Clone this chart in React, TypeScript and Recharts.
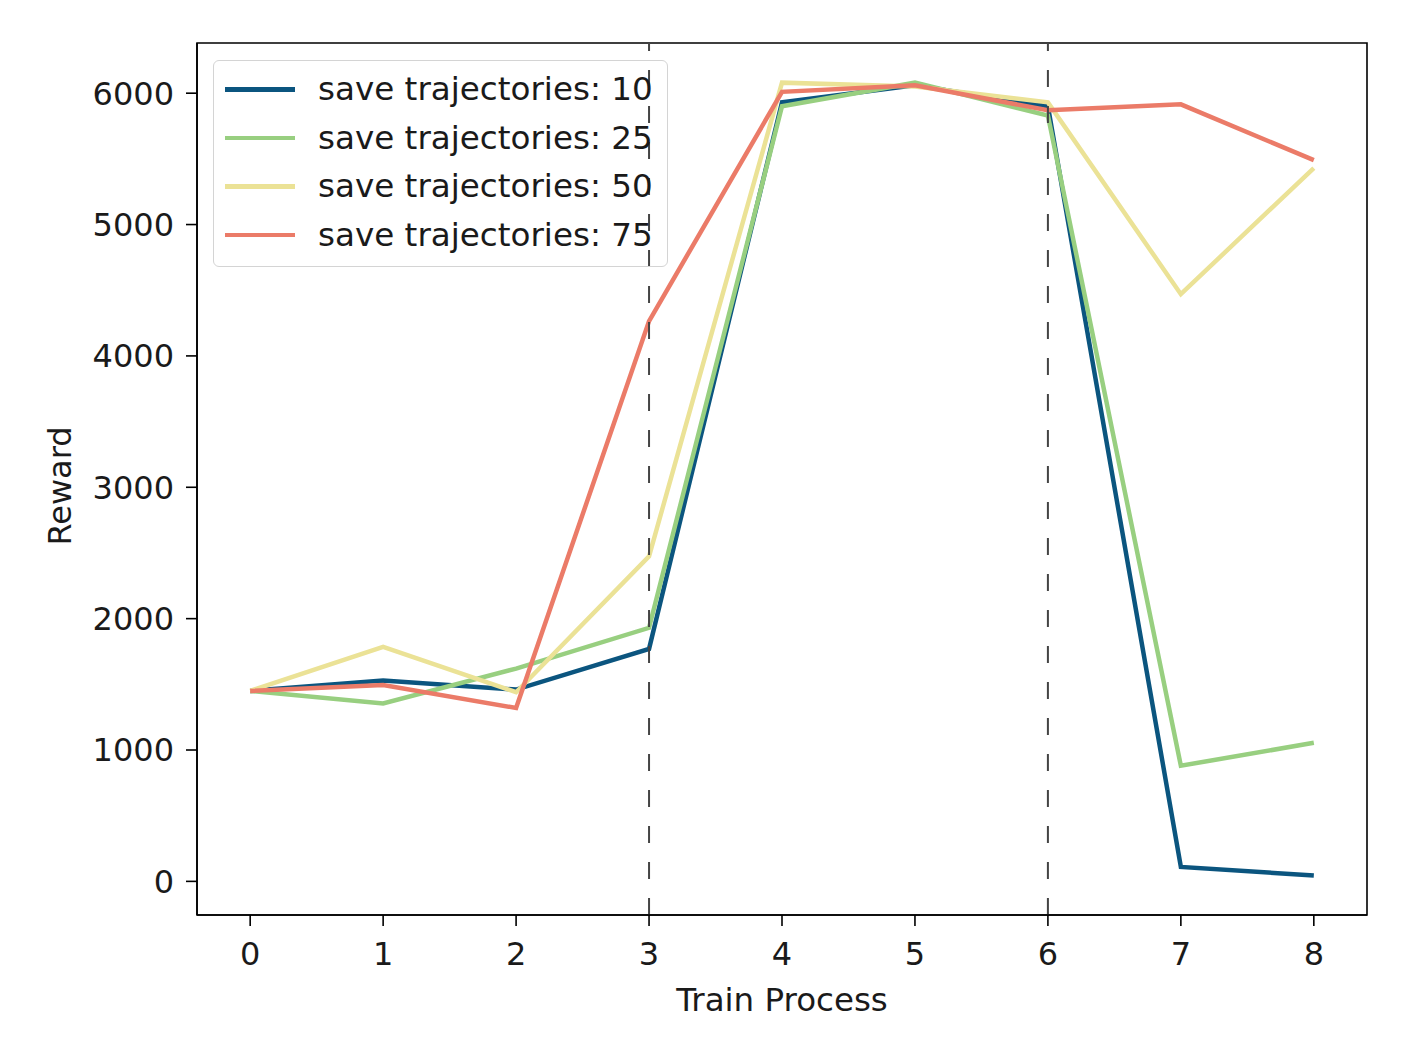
import { LineChart, Line, XAxis, YAxis, ReferenceLine, ReferenceArea, Label } from "recharts";
import type { CSSProperties } from "react";

const steps = [0, 1, 2, 3, 4, 5, 6, 7, 8];
const traj10 = [1450, 1530, 1460, 1770, 5930, 6060, 5900, 110, 45];
const traj25 = [1450, 1355, 1620, 1930, 5900, 6080, 5830, 880, 1055];
const traj50 = [1450, 1785, 1440, 2475, 6080, 6050, 5930, 4470, 5430];
const traj75 = [1450, 1495, 1320, 4265, 6010, 6060, 5870, 5915, 5490];
const xTicks = [0, 1, 2, 3, 4, 5, 6, 7, 8];
const yTicks = [0, 1000, 2000, 3000, 4000, 5000, 6000];
const phaseMarks = [3, 6];

const SERIES = [
  { key: "t10", name: "save trajectories: 10", color: "#0b557f", values: traj10 },
  { key: "t25", name: "save trajectories: 25", color: "#98cf80", values: traj25 },
  { key: "t50", name: "save trajectories: 50", color: "#ebe296", values: traj50 },
  { key: "t75", name: "save trajectories: 75", color: "#eb7b68", values: traj75 },
];

const data = steps.map((s, i) => {
  const row: Record<string, number> = { step: s };
  SERIES.forEach((ser) => (row[ser.key] = ser.values[i]));
  return row;
});

const FONT = "'DejaVu Sans', sans-serif";
const tickStyle = { fontFamily: FONT, fontSize: 32, fill: "#1a1a1a" };

// legend sits over the plot with a see-through background, like matplotlib's
function LegendBox() {
  return (
    <div style={legendBox}>
      {SERIES.map((s) => (
        <div key={s.key} style={legendRow}>
          <span style={{ display: "inline-block", width: 70, height: 4.5, background: s.color, marginRight: 23 }} />
          <span>{s.name}</span>
        </div>
      ))}
    </div>
  );
}

export default function App() {
  return (
    <div style={{ position: "absolute", left: 0, top: 0, width: 1410, height: 1061, background: "#fff" }}>
      <LineChart width={1410} height={1061} data={data} margin={{ top: 43, right: 43, bottom: 0, left: 0 }}>
        <XAxis
          dataKey="step"
          type="number"
          domain={[-0.4, 8.4]}
          ticks={xTicks}
          allowDataOverflow
          height={146}
          tickSize={11}
          tickMargin={16}
          tick={tickStyle}
          axisLine={{ stroke: "#000", strokeWidth: 1.6 }}
          tickLine={{ stroke: "#000", strokeWidth: 1.6 }}
        >
          <Label
            content={({ viewBox }: any) => (
              <text
                x={viewBox.x + viewBox.width / 2}
                y={1011}
                textAnchor="middle"
                style={{ fontFamily: FONT, fontSize: 32.5, fill: "#1a1a1a" }}
              >
                Train Process
              </text>
            )}
          />
        </XAxis>
        <YAxis
          type="number"
          domain={[-256, 6382]}
          ticks={yTicks}
          allowDataOverflow
          width={197}
          tickSize={11}
          tickMargin={12}
          tick={tickStyle}
          axisLine={{ stroke: "#000", strokeWidth: 1.6 }}
          tickLine={{ stroke: "#000", strokeWidth: 1.6 }}
        >
          <Label
            content={() => (
              <text
                x={71}
                y={486}
                textAnchor="middle"
                transform="rotate(-90 71 486)"
                style={{ fontFamily: FONT, fontSize: 32, fill: "#1a1a1a" }}
              >
                Reward
              </text>
            )}
          />
        </YAxis>
        <ReferenceArea x1={-0.4} x2={8.4} y1={-256} y2={6382} fill="none" stroke="#000" strokeWidth={1.6} />
        {SERIES.map((s) => (
          <Line
            key={s.key}
            dataKey={s.key}
            name={s.name}
            stroke={s.color}
            strokeWidth={4.5}
            dot={false}
            activeDot={false}
            isAnimationActive={false}
          />
        ))}
        {phaseMarks.map((x) => (
          <ReferenceLine key={x} x={x} stroke="#444" strokeWidth={2} strokeDasharray="17 19" />
        ))}
      </LineChart>
      <div style={{ position: "absolute", left: 213, top: 60 }}>
        <LegendBox />
      </div>
    </div>
  );
}

const legendBox: CSSProperties = {
  width: 455,
  height: 207,
  border: "1.5px solid #d4d4d4",
  borderRadius: 6,
  boxSizing: "border-box",
  padding: "4px 0 0 11px",
  fontFamily: FONT,
  fontSize: 32.6,
  color: "#1a1a1a",
};

const legendRow: CSSProperties = {
  display: "flex",
  alignItems: "center",
  height: 48.6,
  whiteSpace: "nowrap",
};
